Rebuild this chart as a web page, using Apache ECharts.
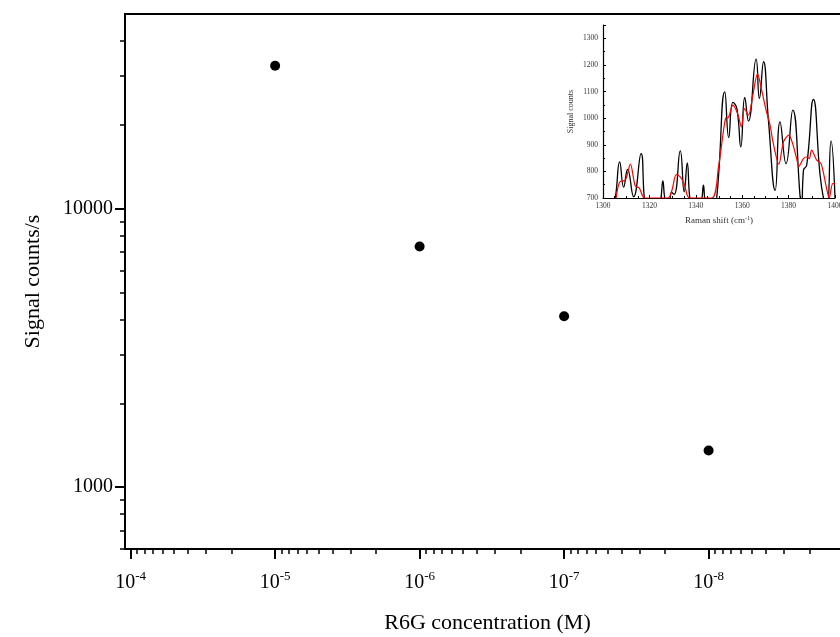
<!DOCTYPE html>
<html>
<head>
<meta charset="utf-8">
<script src="https://cdn.jsdelivr.net/npm/echarts@6/dist/echarts.min.js"></script>
<style>
  html, body { margin: 0; padding: 0; background: #fff; }
  #chart { width: 840px; height: 637px; }
</style>
</head>
<body>
<div id="chart"></div>
<script>
// Main plot: signal vs R6G concentration (log-log)
const concentrations = [1e-5, 1e-6, 1e-7, 1e-8];
const signalCounts = [32600, 7320, 4110, 1355];

// Decade ticks of the main axes
const xMajorExponents = [-4, -5, -6, -7, -8];
const yMajorValues = [1000, 10000];

// Inset: Raman spectrum, raw trace
const rawShift = [1302, 1305.3, 1307.2, 1308.9, 1310.6, 1313.2, 1316.4, 1317.8, 1319.5, 1323,
  1325.0, 1325.8, 1326.6, 1328.5, 1329.5, 1330.7, 1333.3, 1335.0, 1336.3, 1337.4,
  1339.5, 1342.5, 1343.3, 1344.0, 1346.5, 1349.0, 1352.5, 1354.2, 1356.0, 1357.7,
  1359.4, 1361.1, 1362.7, 1366.0, 1367.4, 1369.2, 1371.3, 1374.2, 1376.3, 1378.9,
  1381.8, 1385.0, 1385.6, 1386.4, 1387.8, 1390.7, 1393.5, 1395.0, 1396.5, 1398.3, 1400];
const rawCounts = [560, 700, 836, 741, 807, 705, 867, 700, 580, 580,
  700, 764, 700, 620, 722, 714, 877, 723, 832, 700,
  580, 690, 748, 690, 600, 700, 1099, 927, 1059, 1036,
  892, 1078, 989, 1222, 1074, 1212, 992, 729, 986, 829,
  1030, 700, 640, 804, 823, 1070, 792, 700, 650, 915, 700];

// Inset: Raman spectrum, smoothed trace
const smoothShift = [1305.7, 1307.2, 1309.6, 1311.8, 1313.9, 1315.6, 1318.0,
  1328.0, 1329.7, 1331.6, 1333.3, 1335.0, 1337.3,
  1346.9, 1349.8, 1352.8, 1354.1, 1356.0, 1358.0, 1359.7, 1361.0, 1362.7, 1364.6,
  1366.6, 1368.4, 1370.3, 1372.0, 1373.4, 1375.8, 1377.8, 1380.1, 1381.5, 1383.5,
  1384.4, 1386.4, 1387.8, 1388.9, 1389.9, 1392.1, 1394.0, 1396.4, 1397.5, 1399.0, 1400];
const smoothCounts = [700, 760, 767, 827, 745, 738, 700,
  700, 729, 788, 779, 754, 700,
  700, 817, 999, 1003, 1049, 1018, 967, 1036, 1011, 1087,
  1166, 1105, 1030, 974, 905, 827, 911, 936, 911, 848,
  819, 848, 854, 848, 880, 842, 829, 735, 700, 754, 754];

const SERIF = '"Liberation Serif", "Times New Roman", serif';
const log10 = Math.log10;

// Minor ticks at 2..9 times each decade
const xMinor = [];
for (let e = -9; e <= -5; e++) for (let k = 2; k <= 9; k++) xMinor.push(log10(k * Math.pow(10, e)));
const yMinor = [];
for (let e = 2; e <= 4; e++) for (let k = 2; k <= 9; k++) {
  const v = k * Math.pow(10, e);
  if (v >= 600 && v < 50000) yMinor.push(log10(v));
}

// The frame runs past the right edge of the canvas, so its right side is never drawn
const X_MIN = -8.9785, X_MAX = -3.961;
const Y_MIN = log10(600), Y_MAX = log10(50000);

const chart = echarts.init(document.getElementById('chart'), null, { renderer: 'canvas' });

chart.setOption({
  animation: false,
  backgroundColor: '#fff',
  grid: [
    { left: 125, top: 14, right: -10, bottom: 88, outerBoundsMode: 'none', containLabel: false,
      show: true, borderColor: '#000', borderWidth: 2, backgroundColor: 'transparent' },
    { left: 603, top: 25, right: 5, bottom: 439, outerBoundsMode: 'none', containLabel: false, show: false }
  ],
  xAxis: [
    {
      gridIndex: 0, type: 'value', position: 'bottom', inverse: true,
      min: X_MIN, max: X_MAX,
      splitLine: { show: false },
      axisLine: { show: true, onZero: false, lineStyle: { color: '#000', width: 2 } },
      axisTick: { show: true, customValues: xMajorExponents, length: 10, lineStyle: { color: '#000', width: 2 } },
      axisLabel: {
        customValues: xMajorExponents, margin: 21,
        formatter: v => '{b|10}{s|' + Math.round(v) + '}',
        rich: {
          b: { fontFamily: SERIF, fontSize: 20, color: '#000' },
          s: { fontFamily: SERIF, fontSize: 13, color: '#000', padding: [0, 0, 12, 0] }
        }
      },
      name: 'R6G concentration (M)', nameLocation: 'middle', nameGap: 63,
      nameTextStyle: { fontFamily: SERIF, fontSize: 22, color: '#000' }
    },
    {
      gridIndex: 0, type: 'value', position: 'bottom', inverse: true,
      min: X_MIN, max: X_MAX,
      splitLine: { show: false },
      axisLine: { show: false, onZero: false },
      axisTick: { show: true, customValues: xMinor, length: 5, lineStyle: { color: '#000', width: 1.5 } },
      axisLabel: { show: false }
    },
    {
      gridIndex: 1, type: 'value', position: 'bottom',
      min: 1300, max: 1400, interval: 20,
      splitLine: { show: false },
      axisLine: { show: true, onZero: false, lineStyle: { color: '#000', width: 1.2 } },
      axisTick: { show: true, inside: true, length: 3, lineStyle: { color: '#000', width: 1 } },
      minorTick: { show: true, splitNumber: 4, length: 2, lineStyle: { color: '#000', width: 1 } },
      axisLabel: { fontFamily: SERIF, fontSize: 7.5, color: '#333', margin: 4, formatter: v => String(v) },
      name: 'Raman shift (cm{sup|-1})', nameLocation: 'middle', nameGap: 17,
      nameTextStyle: {
        fontFamily: SERIF, fontSize: 9, color: '#333',
        rich: { sup: { fontFamily: SERIF, fontSize: 6, color: '#333', padding: [0, 0, 5, 0] } }
      }
    }
  ],
  yAxis: [
    {
      gridIndex: 0, type: 'value', position: 'left',
      min: Y_MIN, max: Y_MAX,
      splitLine: { show: false },
      axisLine: { show: true, onZero: false, lineStyle: { color: '#000', width: 2 } },
      axisTick: { show: true, customValues: yMajorValues.map(log10), length: 10, lineStyle: { color: '#000', width: 2 } },
      axisLabel: {
        customValues: yMajorValues.map(log10), margin: 12,
        formatter: v => String(Math.round(Math.pow(10, v))),
        fontFamily: SERIF, fontSize: 20, color: '#000'
      },
      name: 'Signal counts/s', nameLocation: 'middle', nameGap: 81,
      nameTextStyle: { fontFamily: SERIF, fontSize: 22, color: '#000' }
    },
    {
      gridIndex: 0, type: 'value', position: 'left',
      min: Y_MIN, max: Y_MAX,
      splitLine: { show: false },
      axisLine: { show: false, onZero: false },
      axisTick: { show: true, customValues: yMinor, length: 5, lineStyle: { color: '#000', width: 1.5 } },
      axisLabel: { show: false }
    },
    {
      gridIndex: 1, type: 'value', position: 'left',
      min: 700, max: 1350, interval: 100,
      splitLine: { show: false },
      axisLine: { show: true, onZero: false, lineStyle: { color: '#000', width: 1.2 } },
      axisTick: { show: true, inside: true, length: 3, lineStyle: { color: '#000', width: 1 } },
      minorTick: { show: true, splitNumber: 2, length: 2, lineStyle: { color: '#000', width: 1 } },
      axisLabel: { fontFamily: SERIF, fontSize: 7.5, color: '#333', margin: 5, showMaxLabel: false, formatter: v => String(v) },
      name: 'Signal counts', nameLocation: 'middle', nameGap: 28,
      nameTextStyle: { fontFamily: SERIF, fontSize: 8, color: '#333' }
    }
  ],
  series: [
    {
      type: 'scatter', xAxisIndex: 0, yAxisIndex: 0,
      symbol: 'circle', symbolSize: 10,
      itemStyle: { color: '#000', opacity: 1 },
      data: concentrations.map((c, i) => [log10(c), log10(signalCounts[i])])
    },
    {
      type: 'line', xAxisIndex: 2, yAxisIndex: 2,
      smooth: 0.5, showSymbol: false, clip: true,
      lineStyle: { color: '#000', width: 1.3 },
      data: rawShift.map((x, i) => [x, rawCounts[i]])
    },
    {
      type: 'line', xAxisIndex: 2, yAxisIndex: 2,
      smooth: 0.3, showSymbol: false, clip: true,
      lineStyle: { color: '#ff0000', width: 1.2 },
      data: smoothShift.map((x, i) => [x, smoothCounts[i]])
    }
  ]
});
</script>
</body>
</html>
